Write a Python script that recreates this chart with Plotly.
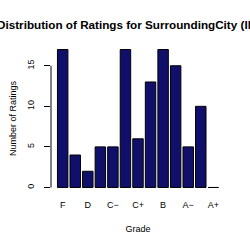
import plotly.graph_objects as go

grades = ["F", "D−", "D", "D+", "C−", "C", "C+", "B−", "B", "B+", "A−", "A", "A+"]
counts = [17, 4, 2, 5, 5, 17, 6, 13, 17, 15, 5, 10, 0]
shown_labels = ["F", "D", "C−", "C+", "B", "A−", "A+"]
y_ticks = [0, 5, 10, 15]

title_text = "Distribution of Ratings for SurroundingCity (IN)"
font_family = "Liberation Sans, Arial, sans-serif"

fig = go.Figure(
    go.Bar(
        x=list(range(len(grades))),
        y=counts,
        marker=dict(color="#10106a", line=dict(color="black", width=1)),
        width=0.833,
        hoverinfo="skip",
    )
)

tickvals = [grades.index(g) for g in shown_labels]

fig.update_layout(
    width=250,
    height=250,
    margin=dict(l=49, r=25, t=44, b=57, pad=0),
    paper_bgcolor="white",
    plot_bgcolor="white",
    showlegend=False,
    font=dict(family=font_family, color="black", size=9),
    title=dict(
        text="<b>" + title_text + "</b>",
        x=0.514,
        xanchor="center",
        y=1 - 25 / 250,
        yanchor="middle",
        font=dict(size=11.7, family=font_family, color="black"),
    ),
    xaxis=dict(
        range=[-0.931, 12.93],
        tickvals=tickvals,
        ticktext=shown_labels,
        ticks="",
        showline=False,
        showgrid=False,
        zeroline=False,
        ticklabelstandoff=5,
        title=dict(text="Grade", standoff=16, font=dict(size=9)),
        fixedrange=True,
    ),
    yaxis=dict(
        range=[-0.68, 17.68],
        tickvals=y_ticks,
        ticks="outside",
        ticklen=6,
        tickcolor="black",
        tickwidth=1,
        tickangle=-90,
        showline=False,
        showgrid=False,
        zeroline=False,
        ticklabelstandoff=6,
        title=dict(text="Number of Ratings", standoff=8, font=dict(size=9)),
        fixedrange=True,
    ),
)

fig.add_shape(
    type="line",
    xref="paper",
    yref="y",
    x0=0,
    x1=0,
    y0=y_ticks[0],
    y1=y_ticks[-1],
    line=dict(color="black", width=1),
)

fig.write_html("out.html", config={"displayModeBar": False})
